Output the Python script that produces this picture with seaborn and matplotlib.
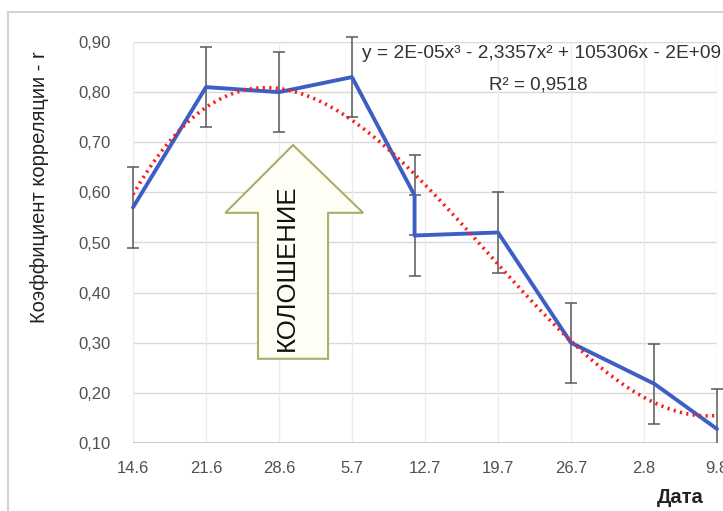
import matplotlib
matplotlib.use("Agg")
from matplotlib import pyplot as plt
from matplotlib.patches import Polygon, Rectangle
import pandas as pd
import seaborn as sns
import numpy as np

# %%
# dni od 14.6, hodnoty odctene z obrazku
days = [0, 7, 14, 21, 27, 27, 35, 42, 50, 56]
corr = [0.57, 0.81, 0.80, 0.83, 0.594, 0.514, 0.52, 0.30, 0.218, 0.128]
err = [0.08, 0.08, 0.08, 0.08, 0.08, 0.08, 0.08, 0.08, 0.08, 0.08]

tick_days = [0, 7, 14, 21, 28, 35, 42, 49, 56]
tick_labels = ['14.6', '21.6', '28.6', '5.7', '12.7', '19.7', '26.7', '2.8', '9.8']
y_ticks = [0.1, 0.2, 0.3, 0.4, 0.5, 0.6, 0.7, 0.8, 0.9]

equation = "y = 2E-05x³ - 2,3357x² + 105306x - 2E+09"
r_squared = "R² = 0,9518"

df = pd.DataFrame({'den': days, 'r': corr, 'err': err})

sns.set_style("white")
plt.rcParams['font.family'] = ['Liberation Sans', 'DejaVu Sans']

fig = plt.figure(figsize=(7.23, 5.11), dpi=100)
ax = fig.add_axes([133 / 723, 68 / 511, 584 / 723, 401 / 511])

# mrizka
for yt in y_ticks:
    ax.axhline(yt, color='#d9d9d9', lw=1.0, zorder=0)
for xt in tick_days:
    ax.axvline(xt, color='#ececec', lw=1.0, zorder=0)
ax.axhline(0.1, color='#bfbfbf', lw=1.2, zorder=1)

# chybove usecky - orezat jen dole/nahore, ne po stranach
clip = Rectangle((-0.05, 0), 1.1, 1.03, transform=ax.transAxes, visible=False)
ax.add_patch(clip)
eb = ax.errorbar(df['den'], df['r'], yerr=df['err'], fmt='none', ecolor='#595959',
                 elinewidth=1.1, capsize=4, capthick=1.1, zorder=2)
for part in eb.get_children():
    part.set_clip_path(clip)
sns.lineplot(data=df, x='den', y='r', estimator=None, sort=False, ax=ax,
             color='#3d5ec4', lw=2.8, zorder=3)
ax.lines[-1].set_clip_on(False)
sns.regplot(data=df, x='den', y='r', order=3, ci=None, scatter=False, ax=ax,
            line_kws={'color': '#ff1a1a', 'lw': 2.6, 'ls': (0, (0.6, 1.2)), 'zorder': 4})

ax.set_xlim(0, 56)
ax.set_ylim(0.1, 0.9)
ax.set_xticks(tick_days)
ax.set_xticklabels(tick_labels)
ax.set_yticks(y_ticks)
ax.set_yticklabels([f"{v:.2f}".replace('.', ',') for v in y_ticks])
ax.tick_params(axis='both', length=0, labelsize=12, labelcolor='#505050')
ax.tick_params(axis='y', pad=16)
ax.tick_params(axis='x', pad=13)
for s in ax.spines.values():
    s.set_visible(False)
ax.set_xlabel('')
ax.set_ylabel('')

# sipka s textem
arrow = Polygon([(0.214, 0.21), (0.214, 0.574), (0.158, 0.574), (0.274, 0.743),
                 (0.394, 0.574), (0.334, 0.574), (0.334, 0.21)], closed=True,
                transform=ax.transAxes, facecolor='#fefef4', edgecolor='#a9ae6a',
                lw=1.5, zorder=2.5)
ax.add_patch(arrow)
ax.text(0.264, 0.436, 'КОЛОШЕНИЕ', transform=ax.transAxes, rotation=90,
        ha='center', va='center', fontsize=18.5, color='#111111', zorder=5)

fig.text(362 / 723, 1 - 53 / 511, equation, ha='left', va='center',
         fontsize=13.8, color='#333333')
fig.text(538 / 723, 1 - 85 / 511, r_squared, ha='center', va='center',
         fontsize=13.5, color='#333333')

fig.text(40 / 723, 1 - 187 / 511, 'Коэффициент корреляции - r', rotation=90,
         ha='center', va='center', fontsize=14.5, color='#222222')
fig.text(680 / 723, 1 - 497 / 511, 'Дата', ha='center', va='center',
         fontsize=14.5, fontweight='bold', color='#222222')

# okraj grafu
fig.patches.append(Rectangle((8 / 723, -0.1), 1.2, 1 - 12 / 511 + 0.1,
                             transform=fig.transFigure, fill=False,
                             edgecolor='#d4d4d4', lw=1.5))

fig.savefig("out.png", dpi=100)
